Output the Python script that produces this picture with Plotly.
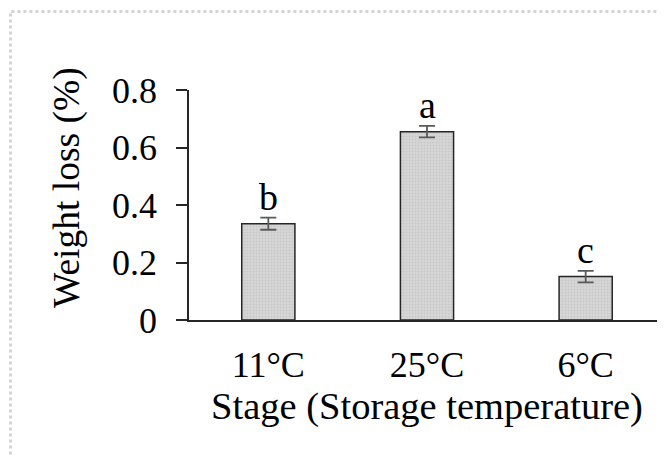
import plotly.graph_objects as go

categories = ["11°C", "25°C", "6°C"]
weight_loss = [0.335, 0.655, 0.151]
errors = [0.021, 0.020, 0.020]
letters = ["b", "a", "c"]
y_ticks = [0, 0.2, 0.4, 0.6, 0.8]
y_tick_labels = ["0", "0.2", "0.4", "0.6", "0.8"]
y_title = "Weight loss (%)"
x_title = "Stage (Storage temperature)"

FONT = "Liberation Serif"

# the page body has an 8px margin, so the figure is drawn 8px smaller
W, H = 657, 448
L, R, T, B = 181, 0, 82, 136
PW, PH = W - L - R, H - T - B

fig = go.Figure()
fig.add_trace(go.Bar(
    x=categories, y=weight_loss,
    width=0.335,
    marker=dict(color="#d6d6d6", line=dict(color="#262626", width=1.5),
                pattern=dict(shape=".", fgcolor="#b8b8b8", size=3, solidity=0.3)),
    error_y=dict(type="data", array=errors, visible=True,
                 color="#595959", thickness=1.8, width=8),
    showlegend=False,
))

for c, v, e, t in zip(categories, weight_loss, errors, letters):
    fig.add_annotation(x=c, y=v + e, text=t, showarrow=False,
                       yanchor="bottom", yshift=-2,
                       font=dict(family=FONT, size=38, color="black"))

# y-axis title placed as rotated annotation (it sits above the plot centre)
fig.add_annotation(xref="paper", yref="paper",
                   x=(59 - L) / PW, y=1 - (180 - T) / PH,
                   xanchor="center", yanchor="middle",
                   text=y_title, textangle=-90, showarrow=False,
                   font=dict(family=FONT, size=37.5, color="black"))

# outer dotted frame
fig.add_shape(type="rect", xref="paper", yref="paper",
              x0=(2.5 - L) / PW, x1=1.2, y0=-1.0, y1=1 + (T - 3.5) / PH,
              line=dict(color="#d4d4d4", width=3, dash="dot"))

fig.update_layout(
    width=W, height=H,
    margin=dict(l=L, r=R, t=T, b=B),
    paper_bgcolor="white", plot_bgcolor="white",
    font=dict(family=FONT, size=36, color="black"),
    bargap=0.665,
    xaxis=dict(showline=True, linecolor="#262626", linewidth=1.5,
               ticks="", showgrid=False, zeroline=False, automargin=False,
               ticklabelstandoff=12,
               title=dict(text=x_title, standoff=0,
                          font=dict(family=FONT, size=38.5)),
               tickfont=dict(family=FONT, size=36)),
    yaxis=dict(range=[0, 0.8], tickvals=y_ticks, ticktext=y_tick_labels,
               showline=True, linecolor="#262626", linewidth=1.5,
               ticks="outside", ticklen=11, tickcolor="#262626", tickwidth=1.5,
               showgrid=False, zeroline=False, automargin=False,
               ticklabelstandoff=12,
               tickfont=dict(family=FONT, size=36)),
)

fig.write_html("out.html")
